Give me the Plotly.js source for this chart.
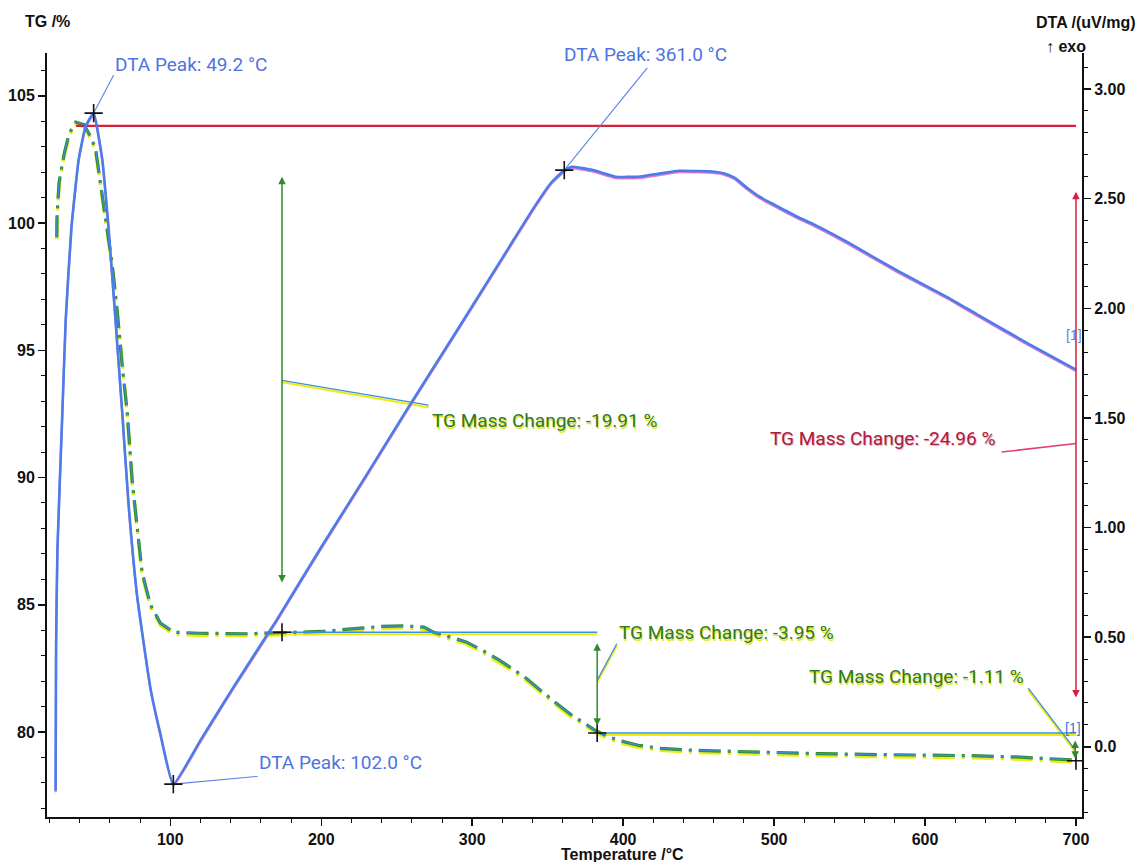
<!DOCTYPE html>
<html><head><meta charset="utf-8">
<script src="https://cdn.plot.ly/plotly-3.0.1.min.js"></script>
<style>html,body{margin:0;padding:0;background:#fff}</style>
</head><body><div id="chart" style="width:1139px;height:862px"></div>
<script>
// ---- TG curve (temperature °C, mass %) ----
const tgTemp = [24.8, 24.9, 26.3, 29.6, 32.9, 37.3, 42.8, 47.2, 50.5, 53.8, 58.2, 61.5, 64.8, 68.1, 71.4, 74.7, 78.0, 81.3, 86.8, 93.4, 102.2,
  120, 150, 175, 200, 220, 240, 255, 268, 274, 285, 296, 307, 318, 327, 336, 345, 353, 360, 366, 374, 382, 390, 397, 410, 425, 447, 470, 497, 530, 560, 598, 630, 660, 680, 698];
const tgMass = [99.44, 100.2, 101.6, 102.7, 103.5, 103.96, 103.87, 103.4, 102.9, 101.6, 99.8, 98.36, 96.56, 94.4, 92.6, 89.9, 88.07, 86.27, 85.0, 84.28, 83.92,
  83.88, 83.86, 83.92, 83.95, 84.05, 84.15, 84.17, 84.12, 83.93, 83.75, 83.54, 83.2, 82.82, 82.47, 82.1, 81.65, 81.25, 80.93, 80.66, 80.35, 80.05, 79.82, 79.67, 79.48, 79.36, 79.28, 79.24, 79.2, 79.15, 79.12, 79.1, 79.07, 79.02, 78.97, 78.9];

// ---- DTA curve (temperature °C, uV/mg) ----
const dtaTemp = [24.0, 24.3, 25.2, 28.5, 30.7, 34.5, 39.3, 43.9, 49.2, 54.9, 59.1, 63.7, 68.1, 72.3, 78.0, 86.8, 93.4, 102.0,
  120, 141.6, 170.6, 199, 230, 256, 290, 320, 340, 352, 361, 366, 380, 395, 410, 425, 437, 450, 459, 467, 474, 481, 490, 498, 516, 527, 549, 582, 615, 635, 668, 700];
const dtaSignal = [-0.20, 0.45, 0.90, 1.53, 1.95, 2.37, 2.68, 2.83, 2.89, 2.68, 2.365, 1.945, 1.53, 1.11, 0.69, 0.27, 0.06, -0.17,
  0.03, 0.27, 0.58, 0.90, 1.24, 1.53, 1.90, 2.23, 2.45, 2.57, 2.63, 2.645, 2.63, 2.60, 2.60, 2.615, 2.627, 2.626, 2.624, 2.615, 2.595, 2.555, 2.51, 2.48, 2.415, 2.38, 2.30, 2.17, 2.05, 1.97, 1.84, 1.72];

// ---- DTA peak annotations ----
const peakTemp = [49.2, 361.0, 102.0];
const peakDTA = [2.89, 2.63, -0.17];
const peakText = ['DTA Peak: 49.2 °C', 'DTA Peak: 361.0 °C', 'DTA Peak: 102.0 °C'];
const peakLeaderTemp = [62.5, 416, 157.8];
const peakLeaderDTA = [3.064, 3.096, -0.135];
const peakLabelTemp = [62.1, 359.6, 157.6];
const peakLabelDTA = [3.113, 3.155, -0.071];

// ---- TG mass-change steps ----
const stepText = ['TG Mass Change: -19.91 %', 'TG Mass Change: -3.95 %', 'TG Mass Change: -1.11 %'];
const stepTemp = [174, 382.8, 699.5];
const stepTop = [101.88, 83.55, 79.72];
const stepBottom = [85.87, 80.25, 78.95];
const stepLeaderStartTG = [93.82, 82.03, 79.3];
const stepLeaderEndTemp = [271.1, 395.8, 668.4];
const stepLeaderEndTG = [92.84, 83.47, 81.72];
const stepLabelTemp = [272.2, 396, 667];
const stepLabelTG = [92.25, 83.92, 82.2];
const stepLabelAnchor = ['left', 'left', 'right'];
const levelTG = [83.92, 79.96];
const levelFrom = [174, 382.8];
const levelTo = [382.8, 700];
const tgMarkTemp = [174, 382.8, 700];
const tgMarkMass = [83.92, 79.96, 78.87];

// ---- total mass change ----
const startLevelTG = 103.82;
const startLevelTemp = [37.5, 700];
const totalText = 'TG Mass Change: -24.96 %';
const totalTemp = 700;
const totalTop = 101.29;
const totalBottom = 81.36;
const totalLeaderTemp = [700, 650.7];
const totalLeaderTG = [91.34, 91.0];
const totalLabelTemp = 647.7;
const totalLabelTG = 91.55;

// ---- markers "[1]" ----
const bracketText = '[1]';
const bracketDTA = [698.5, 1.878];
const bracketTG = [698, 80.15];

// ---- ticks ----
const xTickVals = [100, 200, 300, 400, 500, 600, 700];
const tgTickVals = [80, 85, 90, 95, 100, 105];
const dtaTickVals = [0, 0.5, 1.0, 1.5, 2.0, 2.5, 3.0];
const dtaTickText = ['0.0', '0.50', '1.00', '1.50', '2.00', '2.50', '3.00'];

// ---- styling ----
const LABEL = 'Roboto, "Liberation Sans", Arial, sans-serif';
const SANS = '"Liberation Sans", Arial, sans-serif';
const TG_RANGE = [76.66, 106.68];
const DTA_RANGE = [-0.32, 3.164];
const tgShift = 2 / 25.44;     // 2 px shadow offset
const dtaShift = 1.5 / 219.17; // 1.5 px shadow offset
const DASH = '22px,7px,3px,7px';
const GREEN = '#2e8b2e', TGBLUE = '#3c8ee0', YELLOW = '#ecec10', DTABLUE = '#4a7de8', PINK = '#e27ad6';
const RED = '#d8203c';

const traces = [];
traces.push({x: tgTemp, y: tgMass, yaxis: 'y', mode: 'lines', line: {color: YELLOW, width: 3.5, dash: DASH}, hoverinfo: 'skip'});
for (let i = 0; i < levelTG.length; i++) {
  traces.push({x: [levelFrom[i], levelTo[i]], y: [levelTG[i], levelTG[i]], yaxis: 'y', mode: 'lines', line: {color: YELLOW, width: 2}, hoverinfo: 'skip'});
}
for (let i = 0; i < stepText.length; i++) {
  traces.push({x: [stepTemp[i], stepLeaderEndTemp[i]], y: [stepLeaderStartTG[i], stepLeaderEndTG[i]], yaxis: 'y', mode: 'lines', line: {color: YELLOW, width: 2}, hoverinfo: 'skip'});
}
traces.push({x: dtaTemp, y: dtaSignal, yaxis: 'y2', mode: 'lines', line: {color: PINK, width: 2.2, shape: 'spline', smoothing: 0.4}, hoverinfo: 'skip'});

traces.push({x: tgTemp, y: tgMass, yaxis: 'y3', mode: 'lines', line: {color: GREEN, width: 3.2, dash: DASH}, hoverinfo: 'skip'});
traces.push({x: tgTemp, y: tgMass, yaxis: 'y3', mode: 'lines', line: {color: TGBLUE, width: 1.3, dash: DASH}, hoverinfo: 'skip'});
for (let i = 0; i < levelTG.length; i++) {
  traces.push({x: [levelFrom[i], levelTo[i]], y: [levelTG[i], levelTG[i]], yaxis: 'y3', mode: 'lines', line: {color: TGBLUE, width: 1.5}, hoverinfo: 'skip'});
}
for (let i = 0; i < stepText.length; i++) {
  traces.push({x: [stepTemp[i], stepLeaderEndTemp[i]], y: [stepLeaderStartTG[i], stepLeaderEndTG[i]], yaxis: 'y3', mode: 'lines', line: {color: TGBLUE, width: 1.3}, hoverinfo: 'skip'});
}
traces.push({x: startLevelTemp, y: [startLevelTG, startLevelTG], yaxis: 'y3', mode: 'lines', line: {color: RED, width: 2.2}, hoverinfo: 'skip'});
traces.push({x: totalLeaderTemp, y: totalLeaderTG, yaxis: 'y3', mode: 'lines', line: {color: '#e0407a', width: 1.5}, hoverinfo: 'skip'});

traces.push({x: dtaTemp, y: dtaSignal, yaxis: 'y4', mode: 'lines', line: {color: DTABLUE, width: 2.6, shape: 'spline', smoothing: 0.4}, hoverinfo: 'skip'});
for (let i = 0; i < peakTemp.length; i++) {
  traces.push({x: [peakTemp[i], peakLeaderTemp[i]], y: [peakDTA[i], peakLeaderDTA[i]], yaxis: 'y4', mode: 'lines', line: {color: '#5a84e6', width: 1.1}, hoverinfo: 'skip'});
}
traces.push({x: peakTemp, y: peakDTA, yaxis: 'y4', mode: 'markers', marker: {symbol: 'cross-thin', size: 13, line: {color: '#111', width: 1.6}}, hoverinfo: 'skip'});
traces.push({x: tgMarkTemp, y: tgMarkMass, yaxis: 'y3', mode: 'markers', marker: {symbol: 'cross-thin', size: 13, line: {color: '#111', width: 1.6}}, hoverinfo: 'skip'});

const annotations = [];
const tgLabelFont = {family: LABEL, size: 19, color: '#2d7a2d', shadow: '1px 2px 0px #e6e620'};
for (let i = 0; i < stepText.length; i++) {
  annotations.push({x: stepTemp[i], y: stepBottom[i], ax: stepTemp[i], ay: stepTop[i], xref: 'x', yref: 'y3', axref: 'x', ayref: 'y3',
    text: '', showarrow: true, arrowhead: 2, arrowside: 'end+start', arrowsize: 1, arrowwidth: 1.5, arrowcolor: GREEN, standoff: 0, startstandoff: 0});
  annotations.push({x: stepLabelTemp[i], y: stepLabelTG[i], xref: 'x', yref: 'y3', text: stepText[i], showarrow: false,
    xanchor: stepLabelAnchor[i], yanchor: 'middle', font: tgLabelFont});
}
annotations.push({x: totalTemp, y: totalBottom, ax: totalTemp, ay: totalTop, xref: 'x', yref: 'y3', axref: 'x', ayref: 'y3',
  text: '', showarrow: true, arrowhead: 2, arrowside: 'end+start', arrowsize: 1, arrowwidth: 1.5, arrowcolor: RED, standoff: 0, startstandoff: 0});
annotations.push({x: totalLabelTemp, y: totalLabelTG, xref: 'x', yref: 'y3', text: totalText, showarrow: false, xanchor: 'right', yanchor: 'middle',
  font: {family: LABEL, size: 19, color: '#a8203c', shadow: '1px 1px 0px #f2b0c4'}});
for (let i = 0; i < peakTemp.length; i++) {
  annotations.push({x: peakLabelTemp[i], y: peakLabelDTA[i], xref: 'x', yref: 'y4', text: peakText[i], showarrow: false, xanchor: 'left', yanchor: 'middle',
    font: {family: LABEL, size: 19, color: '#4d74e2'}});
}
annotations.push({x: bracketDTA[0], y: bracketDTA[1], xref: 'x', yref: 'y4', text: bracketText, showarrow: false, font: {family: SANS, size: 14, color: '#5a84e6'}});
annotations.push({x: bracketTG[0], y: bracketTG[1], xref: 'x', yref: 'y3', text: bracketText, showarrow: false, font: {family: SANS, size: 14, color: '#3a7ad0'}});
const titleFont = {family: SANS, size: 16, color: '#111', weight: 700};
annotations.push({x: -0.0232, y: 1.0406, xref: 'paper', yref: 'paper', text: 'TG /%', showarrow: false, xanchor: 'left', yanchor: 'middle', font: titleFont});
annotations.push({x: 1.0541, y: 1.0393, xref: 'paper', yref: 'paper', text: 'DTA /(uV/mg)', showarrow: false, xanchor: 'right', yanchor: 'middle', font: titleFont});
annotations.push({x: 0.9845, y: 1.0089, xref: 'paper', yref: 'paper', text: '↑ exo', showarrow: false, xanchor: 'center', yanchor: 'middle', font: {family: SANS, size: 16, color: '#111', weight: 700}});
annotations.push({x: 0.5565, y: -0.0497, xref: 'paper', yref: 'paper', text: 'Temperature /°C', showarrow: false, xanchor: 'center', yanchor: 'middle', font: titleFont});

const tickFont = {family: SANS, size: 16, color: '#111', weight: 700};
const hidden = {visible: false, showgrid: false, zeroline: false, fixedrange: true};
const layout = {
  width: 1139, height: 862,
  margin: {l: 47, r: 57, t: 53, b: 45, pad: 0},
  paper_bgcolor: '#fff', plot_bgcolor: '#fff',
  showlegend: false,
  xaxis: {range: [18.3, 704], showgrid: false, zeroline: false, showline: true, linecolor: '#111', linewidth: 2,
    ticks: 'outside', ticklen: 7, tickwidth: 1.5, tickcolor: '#111', tickmode: 'array', tickvals: xTickVals,
    tickfont: tickFont,
    minor: {tickmode: 'linear', tick0: 0, dtick: 20, ticks: 'outside', ticklen: 4, tickwidth: 1, tickcolor: '#111', showgrid: false}},
  yaxis: Object.assign({range: [TG_RANGE[0] + tgShift, TG_RANGE[1] + tgShift]}, hidden),
  yaxis2: Object.assign({range: [DTA_RANGE[0] + dtaShift, DTA_RANGE[1] + dtaShift], overlaying: 'y'}, hidden),
  yaxis3: {range: TG_RANGE, overlaying: 'y', side: 'left', showgrid: false, zeroline: false, showline: true, linecolor: '#111', linewidth: 2,
    ticks: 'outside', ticklen: 7, tickwidth: 1.5, tickcolor: '#111', tickmode: 'array', tickvals: tgTickVals, tickfont: tickFont,
    minor: {tickmode: 'linear', tick0: 0, dtick: 1, ticks: 'outside', ticklen: 4, tickwidth: 1, tickcolor: '#111', showgrid: false}},
  yaxis4: {range: DTA_RANGE, overlaying: 'y', side: 'right', showgrid: false, zeroline: false, showline: true, linecolor: '#111', linewidth: 2,
    ticks: 'outside', ticklen: 7, tickwidth: 1.5, tickcolor: '#111', tickmode: 'array', tickvals: dtaTickVals, ticktext: dtaTickText, tickfont: tickFont,
    minor: {tickmode: 'linear', tick0: 0, dtick: 0.1, ticks: 'outside', ticklen: 4, tickwidth: 1, tickcolor: '#111', showgrid: false}},
  annotations: annotations
};
Plotly.newPlot('chart', traces, layout, {staticPlot: true, displayModeBar: false});
</script></body></html>
